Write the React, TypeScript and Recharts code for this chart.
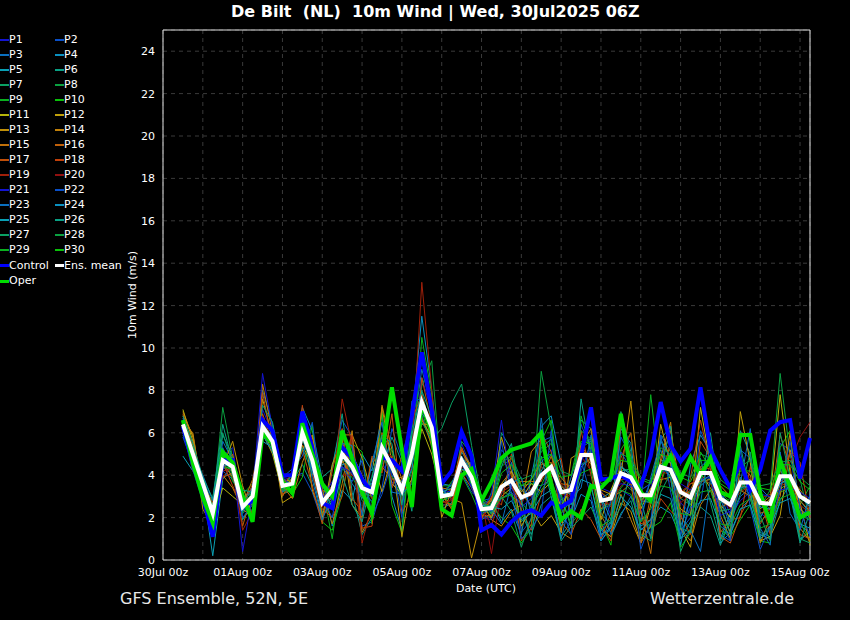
import React from 'react';
import { LineChart, Line, XAxis, YAxis, CartesianGrid, ReferenceArea } from 'recharts';

// hours since 30Jul 00z
const hours = [12,18,24,30,36,42,48,54,60,66,72,78,84,90,96,102,108,114,120,126,132,138,144,150,156,162,168,174,180,186,192,198,204,210,216,222,228,234,240,246,252,258,264,270,276,282,288,294,300,306,312,318,324,330,336,342,348,354,360,366,372,378,384,390];

const xTicks = [0,24,48,72,96,120,144,168,192,216,240,264,288,312,336,360,384];
const xTickLabels = ['30Jul 00z','','01Aug 00z','','03Aug 00z','','05Aug 00z','','07Aug 00z','','09Aug 00z','','11Aug 00z','','13Aug 00z','','15Aug 00z'];
const yTicks = [0,2,4,6,8,10,12,14,16,18,20,22,24];

const P1 = [6.2,4.6,3.1,1.5, 4.9,5.3,2.2,2.6, 7.1,6.0,3.9,3.8, 6.4,5.2,2.6,2.9, 5.6,4.1,3.0,2.8, 4.6,3.7,2.9,4.4, 8.6,7.0,3.4,2.8, 5.5,4.3,2.0,1.9, 2.9,3.2,2.6,3.8, 4.6,5.2,2.9,2.4, 4.2,5.5,3.3,2.1, 3.3,3.0,2.2,3.4, 5.0,4.6,2.7,2.2, 3.6,4.4,3.4,2.1, 2.8,3.2,2.2,1.9, 4.4,3.6,2.5,1.8];
const P2 = [6.0,5.3,3.9,2.6, 4.2,3.8,2.9,3.4, 6.8,5.2,3.2,3.9, 4.1,3.2,1.8,4.4, 6.6,5.8,1.6,1.8, 3.4,6.2,4.8,3.0, 6.8,5.5,3.3,3.5, 4.1,3.2,2.8,2.9, 5.2,4.6,1.3,1.9, 5.6,5.8,2.0,1.6, 6.4,5.2,1.0,1.8, 5.8,4.9,1.5,1.2, 5.9,5.1,1.4,2.0, 6.1,5.0,1.2,0.9, 5.2,4.8,1.0,1.4, 5.5,5.2,1.6,1.3];
const P3 = [6.7,5.1,3.3,1.9, 5.6,4.7,2.0,2.4, 8.0,6.4,3.6,3.2, 6.3,5.0,3.1,3.0, 4.7,3.6,2.9,3.9, 5.8,4.0,3.7,5.6, 9.0,7.1,2.6,2.6, 4.2,4.6,1.9,2.2, 3.1,4.6,3.4,2.5, 3.5,3.8,2.4,3.9, 5.3,5.6,0.9,1.5, 4.6,3.4,2.6,3.7, 5.2,3.8,1.6,2.8, 4.4,4.8,3.1,1.8, 3.0,3.4,3.4,2.9, 4.3,3.3,2.1,2.4];
const P4 = [5.9,4.7,3.8,2.5, 4.4,4.0,2.8,3.4, 5.9,5.1,3.3,4.1, 7.2,6.1,3.8,1.6, 3.3,2.8,5.0,4.2, 6.9,3.0,1.4,6.5, 11.5,8.0,3.6,3.5, 4.9,3.5,2.7,2.8, 1.8,2.4,1.2,3.9, 6.3,6.8,4.5,1.9, 3.1,2.8,0.9,1.6, 6.2,5.5,1.6,1.9, 2.5,2.2,1.1,4.5, 5.9,5.1,0.8,1.3, 2.4,2.9,1.2,1.0, 5.0,3.2,1.0,1.3];
const P5 = [4.9,4.2,3.4,0.2, 3.8,4.6,3.0,2.1, 6.6,5.4,3.8,3.4, 6.2,4.1,2.0,2.8, 4.5,4.6,3.2,3.3, 5.5,4.5,3.0,5.3, 7.0,6.6,2.7,3.3, 5.1,4.3,2.1,2.0, 3.4,4.2,3.3,3.0, 4.2,5.0,3.4,2.6, 4.4,4.8,2.9,3.2, 4.4,4.1,2.8,2.7, 4.7,4.6,3.4,2.6, 3.5,3.9,1.0,2.2, 3.9,3.0,2.0,2.8, 3.7,4.1,2.8,2.2];
const P6 = [6.3,5.2,3.2,2.5, 5.9,4.9,1.9,2.7, 6.1,5.8,3.4,3.7, 4.5,3.5,3.9,4.3, 6.9,3.2,1.2,2.0, 4.3,5.8,4.6,2.3, 7.9,6.0,2.4,2.7, 4.5,4.6,2.6,2.2, 6.0,5.2,2.2,1.2, 2.6,3.0,1.1,1.8, 6.6,6.2,1.4,1.1, 2.2,2.8,1.0,1.6, 5.7,6.3,2.0,1.5, 2.5,2.1,0.7,1.9, 6.1,5.0,1.3,1.1, 2.8,3.6,0.9,1.4];
const P7 = [6.5,5.5,2.8,2.9, 6.0,4.5,2.3,3.3, 6.2,5.4,3.1,3.3, 6.6,5.0,2.2,3.4, 5.4,4.6,2.8,2.4, 5.0,3.9,3.0,6.1, 9.5,7.2,2.8,3.0, 5.6,5.0,2.5,2.7, 2.9,3.2,1.8,2.3, 4.4,4.1,3.5,3.1, 5.5,5.7,2.4,2.6, 4.2,4.3,3.3,3.6, 5.7,4.8,2.9,2.6, 4.3,4.5,2.3,2.4, 3.4,3.8,2.8,2.4, 3.3,3.8,3.1,2.6];
const P8 = [6.6,5.0,3.7,2.4, 7.2,4.8,2.2,2.9, 6.0,6.4,3.9,3.4, 6.9,4.9,3.3,3.0, 5.0,4.7,3.5,2.7, 5.6,4.0,2.9,4.8, 8.2,9.4,3.5,3.5, 4.6,3.7,2.3,2.2, 3.3,3.0,2.7,2.2, 8.9,6.2,3.0,3.6, 4.5,4.8,2.3,3.0, 3.8,3.3,2.9,2.7, 4.3,5.3,3.1,3.2, 4.0,4.2,2.7,2.9, 3.3,3.5,2.5,3.3, 8.8,4.9,3.8,1.9];
const P9 = [6.1,4.8,3.4,2.8, 5.2,3.7,3.1,3.6, 6.5,5.3,3.0,4.2, 5.8,5.6,3.5,1.0, 4.3,3.9,3.1,3.9, 6.0,5.1,2.7,4.2, 10.5,7.8,3.2,2.5, 4.0,3.1,2.0,3.2, 4.4,4.8,3.5,3.6, 3.5,4.6,3.3,2.8, 6.8,5.2,2.7,2.6, 3.4,4.0,2.5,7.8, 3.6,5.0,3.4,2.5, 3.8,3.6,3.2,2.7, 3.7,3.3,1.8,2.3, 3.2,3.4,2.6,3.5];
const P10 = [6.3,4.4,3.9,2.2, 4.5,4.2,2.7,3.1, 6.0,5.6,3.7,3.1, 3.9,6.4,1.8,1.4, 3.1,5.5,5.1,1.7, 7.0,2.6,1.3,5.8, 7.1,5.3,3.0,3.7, 4.3,3.6,2.9,2.6, 2.0,1.6,0.8,1.5, 5.6,6.6,2.9,1.7, 2.3,3.4,1.8,0.7, 5.2,6.0,2.2,1.5, 1.8,2.7,0.6,1.3, 5.1,4.3,1.4,1.1, 1.9,2.6,0.9,0.8, 5.3,6.1,1.8,0.9];
const P11 = [7.1,5.6,3.0,1.8, 3.4,3.0,2.6,2.9, 6.0,5.0,3.2,3.9, 5.4,4.5,3.3,3.0, 4.6,5.0,4.0,2.9, 5.5,3.6,3.1,3.8, 6.2,5.0,3.1,2.4, 4.8,4.0,2.6,2.0, 3.0,3.4,2.9,3.6, 3.2,3.7,2.5,3.5, 5.2,4.5,1.9,3.3, 4.4,4.0,2.4,3.4, 3.8,3.9,2.4,2.1, 7.2,4.5,2.6,2.0, 3.6,3.8,2.4,2.9, 7.8,4.1,2.4,2.0];
const P12 = [6.8,5.9,3.2,2.4, 5.0,4.1,3.0,2.6, 7.6,5.8,2.7,3.0, 6.9,3.3,2.0,4.5, 5.7,2.6,2.0,4.8, 3.2,4.9,1.1,3.9, 6.6,5.8,2.0,3.3, 5.3,4.2,2.3,2.8, 5.8,4.2,1.6,2.4, 1.6,2.1,1.3,4.8, 5.1,7.1,1.5,1.1, 2.7,2.3,0.8,2.6, 6.4,4.5,1.5,0.6, 4.1,3.4,2.5,1.3, 7.0,4.6,0.9,1.1, 2.1,5.2,2.7,0.7];
const P13 = [7.0,5.8,2.4,1.6, 4.4,5.6,3.5,2.1, 6.2,5.1,3.8,3.7, 5.2,5.9,3.1,2.8, 5.9,5.9,4.8,3.1, 7.2,4.6,3.6,4.7, 6.4,6.4,3.2,2.9, 2.7,0.1,2.0,2.6, 3.6,4.2,3.2,3.8, 4.6,4.2,3.9,3.3, 5.1,5.0,3.3,3.1, 4.0,7.5,2.8,3.3, 4.6,4.1,3.1,3.6, 3.7,3.8,3.5,3.0, 3.3,3.0,3.1,2.0, 3.6,3.9,3.3,2.7];
const P14 = [6.5,6.0,3.0,2.5, 4.0,3.4,2.4,2.0, 8.3,6.0,3.5,2.9, 4.6,5.8,3.3,1.7, 3.6,6.1,1.3,2.2, 7.3,5.2,3.8,4.6, 7.2,6.5,2.9,3.1, 5.2,4.4,2.8,1.9, 1.6,2.3,2.6,5.1, 5.7,4.0,1.3,1.0, 5.4,6.2,2.1,1.3, 3.1,1.9,0.8,1.6, 4.8,6.5,1.5,0.9, 2.6,3.3,2.1,1.0, 4.4,4.0,0.8,2.0, 3.0,6.0,1.5,0.9];
const P15 = [6.4,5.4,3.5,2.6, 4.6,3.9,2.6,3.8, 6.3,5.7,3.7,3.3, 5.9,4.8,2.1,2.6, 4.7,4.0,3.6,3.0, 4.4,3.8,3.9,4.6, 6.7,5.4,3.4,3.3, 4.1,3.4,2.4,2.9, 3.6,3.5,3.7,3.7, 3.7,4.9,3.6,3.5, 5.4,4.7,2.4,3.0, 3.2,3.6,2.3,0.3, 4.6,6.1,3.3,3.1, 4.3,4.1,2.8,2.5, 3.5,3.4,2.6,3.0, 3.9,3.7,2.8,2.3];
const P16 = [6.9,5.3,2.9,1.9, 3.9,4.1,1.6,3.2, 6.9,5.5,3.0,3.8, 5.4,5.1,2.9,3.5, 4.9,4.3,3.0,3.4, 5.3,4.4,3.2,5.2, 7.5,5.6,2.8,2.6, 4.6,4.3,2.1,2.1, 3.5,3.8,3.1,2.6, 4.5,4.6,3.5,3.0, 4.8,5.1,3.2,2.8, 4.1,3.6,0.8,3.0, 4.2,4.3,2.9,3.3, 4.4,4.3,2.5,2.7, 3.8,3.6,2.2,2.4, 4.2,3.8,3.0,2.8];
const P17 = [6.2,5.2,3.6,2.7, 4.3,5.0,2.9,2.8, 7.9,5.5,3.5,4.1, 5.2,3.5,1.7,4.2, 6.2,2.9,2.3,4.9, 4.1,6.9,2.2,3.1, 8.6,6.4,3.1,2.4, 4.3,3.9,2.6,2.8, 4.9,4.0,0.9,1.7, 6.0,5.1,1.8,1.2, 2.4,1.9,1.0,2.2, 6.4,4.9,1.7,1.9, 3.6,5.6,2.1,1.2, 5.6,4.8,1.1,0.8, 2.1,3.0,1.7,2.5, 5.9,4.4,1.2,1.0];
const P18 = [6.0,4.9,3.2,2.3, 4.6,3.5,2.4,3.6, 6.2,5.9,3.1,3.4, 7.3,4.1,2.4,2.0, 3.0,5.9,1.5,1.6, 6.0,3.4,4.9,6.6, 7.8,6.1,2.9,3.4, 5.3,3.8,1.9,3.0, 2.6,5.0,2.4,1.4, 3.1,4.4,4.8,2.0, 6.1,4.0,1.7,0.9, 4.8,6.0,2.3,1.1, 2.9,2.3,1.9,3.9, 6.6,4.5,1.3,1.9, 2.0,4.4,3.0,1.2, 3.3,5.1,4.6,2.0];
const P19 = [6.1,4.2,3.6,2.0, 4.2,4.3,1.4,2.3, 6.6,5.6,3.3,3.2, 6.2,4.6,3.3,2.9, 7.6,5.4,0.8,2.6, 5.2,3.8,3.5,5.0, 13.1,8.0,2.7,2.8, 4.8,3.8,2.6,1.6, 3.2,3.5,2.7,3.4, 3.8,4.3,3.1,3.0, 5.1,4.6,3.0,2.5, 3.8,3.8,3.1,2.9, 4.2,4.0,3.2,3.6, 3.9,3.6,2.8,2.6, 3.2,3.5,2.9,3.1, 3.7,3.3,2.6,2.2];
const P20 = [6.3,4.9,3.0,2.1, 3.9,4.5,3.0,2.5, 6.8,5.3,3.6,3.5, 7.0,5.6,2.5,3.2, 4.0,4.0,3.4,2.9, 5.1,4.9,2.8,4.5, 7.3,6.0,2.5,2.9, 4.4,4.1,2.9,0.3, 3.3,3.8,3.0,3.0, 4.4,4.0,3.6,3.1, 4.9,4.2,2.6,2.7, 3.5,3.9,2.7,3.2, 3.9,3.7,2.7,3.1, 3.6,4.4,3.0,2.4, 3.5,3.9,2.7,2.3, 4.1,4.6,5.8,6.5];
const P21 = [6.6,5.2,3.4,2.0, 4.3,4.8,0.4,3.1, 8.8,6.2,3.9,3.5, 6.1,4.2,2.9,3.7, 4.4,4.1,3.3,3.6, 5.7,4.0,3.6,5.1, 7.1,6.0,3.3,3.2, 4.6,3.4,2.3,3.1, 6.6,3.4,2.5,2.9, 4.1,4.3,2.7,3.6, 4.7,5.2,3.4,3.2, 3.6,3.5,3.3,3.6, 4.1,4.4,3.6,3.3, 3.8,3.9,2.1,2.3, 3.7,3.6,3.1,3.0, 3.3,3.4,3.2,2.9];
const P22 = [5.8,4.5,3.3,2.3, 4.8,4.2,2.0,2.6, 6.0,5.1,3.9,4.3, 4.9,6.5,2.9,2.0, 4.4,3.7,4.7,2.1, 3.1,4.6,2.0,7.5, 7.6,5.9,3.0,3.6, 4.7,4.0,2.6,2.3, 5.6,3.1,1.0,1.5, 2.2,6.1,2.5,1.2, 4.7,3.0,1.1,2.8, 5.1,4.3,0.5,1.8, 5.9,3.2,1.2,2.5, 2.7,5.5,1.9,0.9, 5.2,2.5,0.5,1.6, 3.3,5.6,2.4,1.1];
const P23 = [6.4,5.0,4.0,2.8, 5.3,4.3,2.7,3.3, 6.7,5.9,3.2,3.7, 6.8,3.8,1.9,3.1, 5.5,5.4,2.1,4.6, 6.5,3.2,3.1,3.6, 6.9,6.4,3.3,3.0, 4.5,3.8,2.2,2.4, 1.7,3.6,3.9,2.2, 6.7,3.4,1.0,2.9, 3.4,5.9,2.9,1.2, 2.1,3.0,1.8,3.9, 5.6,4.8,1.0,1.4, 0.4,3.8,2.9,1.6, 3.6,6.2,1.5,0.7, 5.1,2.2,1.4,3.1];
const P24 = [6.2,4.8,3.7,2.2, 4.5,4.4,2.3,2.9, 5.6,5.3,3.6,3.6, 5.8,4.3,2.8,3.2, 5.2,4.8,3.5,3.6, 5.0,4.4,3.1,4.3, 7.4,6.3,3.0,3.2, 4.9,4.2,2.5,2.6, 3.5,3.8,2.8,3.3, 4.0,4.3,3.3,3.1, 4.9,4.9,3.0,1.9, 4.4,4.0,3.2,2.8, 4.5,3.9,0.7,3.1, 3.7,4.0,3.1,2.6, 3.4,3.5,2.5,2.4, 3.6,3.8,3.0,2.5];
const P25 = [6.5,5.1,3.5,2.4, 4.8,4.5,2.5,2.8, 6.4,5.8,3.4,3.5, 5.9,4.6,2.7,3.1, 4.9,4.4,3.4,3.3, 5.3,4.5,3.5,4.9, 7.2,6.1,3.1,3.2, 4.6,3.9,2.6,2.5, 2.4,2.8,1.9,2.2, 3.0,3.3,1.6,2.3, 3.8,3.6,1.2,1.5, 3.0,2.5,1.4,1.9, 3.1,2.9,1.0,1.8, 2.8,2.9,1.6,1.2, 2.4,2.6,1.1,1.6, 2.7,2.9,1.7,1.5];
const P26 = [6.8,5.5,3.9,2.9, 6.4,4.6,3.3,3.2, 7.3,6.5,4.0,3.9, 5.3,4.1,3.6,2.4, 4.0,2.6,1.8,3.9, 5.9,5.5,2.6,5.9, 8.0,6.7,3.2,3.4, 4.3,4.0,2.7,2.4, 4.4,5.5,2.8,0.9, 4.9,3.0,0.9,1.6, 7.6,4.9,2.2,1.7, 2.5,4.1,2.9,1.0, 4.2,6.3,1.5,1.3, 3.5,6.0,2.6,1.2, 5.4,3.2,1.0,1.5, 4.3,3.1,0.8,2.3];
const P27 = [6.0,4.7,3.3,2.6, 4.6,4.3,2.7,3.3, 5.9,5.2,3.3,3.2, 5.7,4.4,3.0,2.7, 4.8,4.2,3.2,3.0, 4.9,4.3,3.4,4.6, 6.5,5.7,6.2,7.4, 8.3,5.4,2.9,2.2, 3.0,2.3,0.6,2.0, 5.3,5.7,3.1,1.5, 2.0,2.5,1.4,1.8, 7.0,5.1,1.2,0.9, 3.2,4.1,0.4,1.5, 4.8,2.7,0.9,1.9, 3.1,5.1,2.1,0.9, 6.0,3.9,1.0,0.8];
const P28 = [6.4,5.3,3.6,2.1, 5.1,4.0,2.4,2.9, 6.5,5.6,3.6,3.6, 6.2,4.8,2.8,3.2, 5.1,4.5,3.5,3.4, 5.3,4.4,3.3,5.0, 7.4,6.2,3.1,3.0, 4.8,4.1,2.5,2.6, 4.6,4.9,3.8,4.0, 5.1,5.5,4.2,4.0, 6.1,5.7,3.9,3.7, 5.0,4.8,3.9,3.7, 5.3,5.0,4.1,3.9, 5.0,4.8,3.8,3.4, 4.4,4.7,3.5,3.6, 4.6,4.7,3.9,3.5];
const P29 = [6.2,5.1,3.8,2.5, 4.4,4.3,2.5,3.2, 6.1,5.4,3.3,3.5, 5.9,4.7,2.7,3.3, 4.9,4.3,3.4,3.1, 5.2,4.2,3.2,4.7, 7.3,6.0,2.8,3.1, 4.6,3.8,2.4,2.4, 2.9,3.1,2.0,2.5, 3.3,3.9,2.2,2.8, 4.1,4.3,1.6,1.9, 3.3,3.1,1.8,2.4, 3.5,3.4,2.2,2.1, 3.2,3.3,1.7,1.6, 2.6,2.9,1.5,1.7, 2.9,3.1,2.1,1.9];
const P30 = [6.6,5.2,3.1,2.0, 4.9,4.5,2.6,2.9, 6.3,5.7,3.4,3.6, 6.1,4.8,2.6,3.3, 5.0,4.4,3.3,3.2, 5.4,4.3,3.3,5.0, 7.5,6.2,3.0,3.1, 4.7,3.9,2.3,2.4, 4.1,4.5,3.5,3.8, 4.8,5.0,3.9,4.0, 5.6,5.5,3.6,3.8, 4.7,4.6,3.8,3.6, 5.0,4.8,3.9,3.7, 4.7,4.7,3.6,3.3, 4.2,4.2,3.4,3.3, 4.5,4.5,3.7,3.3];

const CONTROL = [6.3,4.5,3.0,1.1, 4.7,4.7,2.5,2.8, 6.6,6.1,4.0,4.0, 7.0,5.3,2.7,2.45, 5.3,4.8,3.8,3.2, 4.85,4.7,4.2,6.8, 9.8,7.05,3.6,4.2, 6.05,4.9,1.4,1.65, 1.2,1.8,2.2,2.35, 2.1,2.7,2.5,2.8, 4.9,7.2,3.8,3.85, 4.0,3.7,3.5,4.9, 7.45,5.4,4.65,5.25, 8.15,5.2,4.25,3.4, 4.65,3.3,4.25,6.1, 6.5,6.6,3.85,5.75];
const OPER = [6.6,4.55,2.95,1.75, 5.1,4.6,3.05,1.8, 6.0,5.5,3.7,3.15, 6.45,5.0,3.6,3.0, 6.1,4.8,3.2,2.2, 5.0,8.15,5.2,2.5, 7.45,6.0,2.4,2.1, 4.0,4.3,2.8,3.7, 4.8,5.2,5.35,5.5, 6.0,3.5,1.9,2.3, 2.0,3.5,3.4,3.9, 6.9,4.2,3.2,2.8, 4.2,4.9,3.8,4.85, 4.0,4.8,3.2,3.0, 5.9,5.9,3.15,1.75, 4.7,3.45,2.0,2.25];
const ENS_MEAN = [6.4,5.0,3.6,2.2, 4.7,4.4,2.5,3.0, 6.3,5.6,3.5,3.6, 6.0,4.7,2.7,3.3, 5.0,4.4,3.4,3.2, 5.3,4.4,3.3,5.0, 7.45,6.25,3.0,3.1, 4.7,3.9,2.4,2.45, 3.45,3.75,2.95,3.15, 4.0,4.4,3.2,3.3, 4.95,4.95,2.8,2.9, 4.1,3.9,3.05,3.05, 4.4,4.25,3.2,2.95, 4.1,4.1,2.9,2.6, 3.65,3.65,2.7,2.65, 3.95,3.95,3.0,2.7];

const members = [P1,P2,P3,P4,P5,P6,P7,P8,P9,P10,P11,P12,P13,P14,P15,P16,P17,P18,P19,P20,P21,P22,P23,P24,P25,P26,P27,P28,P29,P30];
const baseColors = ['#1414d2','#0a50c8','#0a70c0','#0a90c0','#0aa0b4','#0aa084','#0aa064','#0aa040','#0ab020','#0ac00a','#b4b40a','#c0a00a','#c0900a','#c0800a','#c0700a','#c0600a','#c0500a','#c0400a','#a0200a','#901010'];
const memberColors = members.map((_, i) => baseColors[i % 20]);
const memberNames = members.map((_, i) => 'P' + (i + 1));

const data = hours.map((h, i) => {
  const row: any = { t: h, Control: CONTROL[i], Oper: OPER[i], Mean: ENS_MEAN[i] };
  members.forEach((m, k) => { row[memberNames[k]] = m[i]; });
  return row;
});

const FONT = "'DejaVu Sans', Verdana, sans-serif";

function LegendRow({ y, items }: { y: number; items: { name: string; color: string; thick?: boolean }[] }) {
  return (
    <>
      {items.map((it, j) => {
        const lx = j === 0 ? 0 : 55;
        return (
          <div key={it.name} style={{ position: 'absolute', left: lx, top: y - 8, height: 16, display: 'flex', alignItems: 'center' }}>
            <div style={{ width: 9, height: it.thick ? 3 : 2, background: it.color }} />
            <span style={{ color: '#fff', fontSize: 11, fontFamily: FONT, lineHeight: '16px', whiteSpace: 'pre' }}>{it.name}</span>
          </div>
        );
      })}
    </>
  );
}

export default function App() {
  const rows: { y: number; items: { name: string; color: string; thick?: boolean }[] }[] = [];
  for (let r = 0; r < 15; r++) {
    rows.push({
      y: 39.5 + 15 * r,
      items: [
        { name: memberNames[2 * r], color: memberColors[2 * r] },
        { name: memberNames[2 * r + 1], color: memberColors[2 * r + 1] },
      ],
    });
  }
  rows.push({ y: 265.5, items: [{ name: 'Control', color: '#0000ff', thick: true }, { name: 'Ens. mean', color: '#ffffff', thick: true }] });
  rows.push({ y: 281, items: [{ name: 'Oper', color: '#00dd00', thick: true }] });

  return (
    <div style={{ position: 'absolute', left: 0, top: 0, width: 850, height: 620, background: '#000', overflow: 'hidden', fontFamily: FONT }}>
      <div style={{ position: 'absolute', left: 0, top: 0 }}>
        <LineChart width={850} height={620} data={data} margin={{ top: 30, right: 40, bottom: 30, left: 0 }}>
          <CartesianGrid stroke="#3a3a3a" strokeDasharray="4 4" />
          <XAxis
            dataKey="t"
            type="number"
            domain={[0, 390]}
            ticks={xTicks}
            interval={0}
            tickFormatter={(v: number, i: number) => xTickLabels[i]}
            tick={{ fill: '#ffffff', fontSize: 11, fontFamily: FONT }}
            axisLine={false}
            tickLine={false}
            height={30}
          />
          <YAxis
            type="number"
            domain={[0, 25]}
            ticks={yTicks}
            interval={0}
            tick={{ fill: '#ffffff', fontSize: 11, fontFamily: FONT }}
            axisLine={false}
            tickLine={false}
            width={163}
          />
          {members.map((m, k) => (
            <Line
              key={memberNames[k]}
              type="linear"
              dataKey={memberNames[k]}
              stroke={memberColors[k]}
              strokeWidth={1}
              dot={false}
              isAnimationActive={false}
            />
          ))}
          <Line type="linear" dataKey="Control" stroke="#0000ff" strokeWidth={4} dot={false} isAnimationActive={false} />
          <Line type="linear" dataKey="Oper" stroke="#00dd00" strokeWidth={4} dot={false} isAnimationActive={false} />
          <Line type="linear" dataKey="Mean" stroke="#ffffff" strokeWidth={4} dot={false} isAnimationActive={false} />
          <ReferenceArea x1={0} x2={390} y1={0} y2={25} fill="none" fillOpacity={0} stroke="#e0e0e0" strokeWidth={1} ifOverflow="visible" />
        </LineChart>
      </div>

      <div style={{ position: 'absolute', left: 231, top: 2, color: '#fff', fontSize: 16, fontWeight: 'bold', whiteSpace: 'pre', fontFamily: FONT }}>
        {'De Bilt  (NL)  10m Wind | Wed, 30Jul2025 06Z'}
      </div>

      {rows.map((r, i) => <LegendRow key={i} y={r.y} items={r.items} />)}

      <div style={{ position: 'absolute', left: 133 - 60, top: 295 - 8, width: 120, height: 16, textAlign: 'center', color: '#fff', fontSize: 11, lineHeight: '16px', transform: 'rotate(-90deg)', fontFamily: FONT, whiteSpace: 'pre' }}>
        10m Wind (m/s)
      </div>

      <div style={{ position: 'absolute', left: 486 - 50, top: 582, width: 100, textAlign: 'center', color: '#fff', fontSize: 11, lineHeight: '14px', fontFamily: FONT }}>
        Date (UTC)
      </div>

      <div style={{ position: 'absolute', left: 120, top: 589, color: '#e8e8e8', fontSize: 16, lineHeight: '20px', fontFamily: FONT, whiteSpace: 'pre' }}>
        GFS Ensemble, 52N, 5E
      </div>
      <div style={{ position: 'absolute', left: 650, top: 589, color: '#e8e8e8', fontSize: 16, lineHeight: '20px', fontFamily: FONT, whiteSpace: 'pre' }}>
        Wetterzentrale.de
      </div>
    </div>
  );
}
